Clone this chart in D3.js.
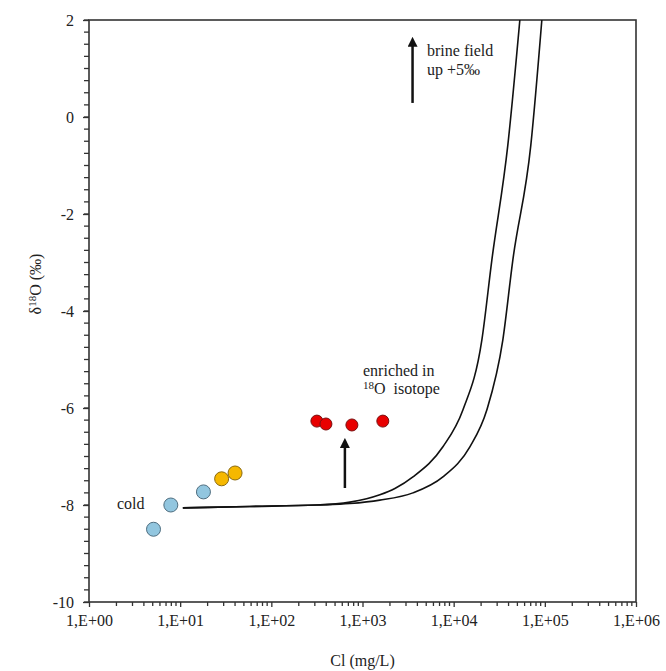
<!DOCTYPE html>
<html>
<head>
<meta charset="utf-8">
<script src="https://cdn.jsdelivr.net/npm/d3@7"></script>
<style>
  body { margin: 0; background: #fff; }
  text { font-family: "Liberation Serif", "Times New Roman", serif; fill: #222; }
</style>
</head>
<body>
<div id="chart"></div>
<script>
const margin = {top: 20, right: 30, bottom: 69, left: 89};
const WIDTH = 666, HEIGHT = 671;
const width = WIDTH - margin.left - margin.right;
const height = HEIGHT - margin.top - margin.bottom;

// samples, Cl (mg/L) vs d18O
const coldCl = [5.1, 7.9, 18];
const coldO = [-8.5, -8.0, -7.73];
const warmCl = [28.5, 40];
const warmO = [-7.46, -7.34];
const enrichedCl = [316, 397, 765, 1670];
const enrichedO = [-6.27, -6.33, -6.35, -6.27];

// mixing curves
const curveACl = [10.7, 58, 316, 728, 1550, 2266, 3575, 7620, 12620, 20370, 26230, 39270, 53200];
const curveAO = [-8.06, -8.03, -8.0, -7.94, -7.79, -7.66, -7.42, -6.8, -6.04, -4.6, -2.95, -0.58, 2];
const curveBCl = [10.7, 58, 316, 728, 1550, 3575, 7620, 15060, 23100, 34600, 44560, 70200, 92700];
const curveBO = [-8.06, -8.03, -8.0, -7.97, -7.9, -7.75, -7.42, -6.8, -6.04, -4.6, -2.95, -0.58, 2];

const xTicks = [1, 10, 100, 1000, 10000, 100000, 1000000];
const xTickLabels = ["1,E+00", "1,E+01", "1,E+02", "1,E+03", "1,E+04", "1,E+05", "1,E+06"];
const yTicks = [-10, -8, -6, -4, -2, 0, 2];

const svg = d3.select('#chart').append('svg')
    .attr('width', WIDTH)
    .attr('height', HEIGHT);
const g = svg.append('g')
    .attr('transform', `translate(${margin.left},${margin.top})`);

const x = d3.scaleLog().domain([1, 1e6]).range([0, width]);
const y = d3.scaleLinear().domain([-10, 2]).range([height, 0]);

// minor ticks
const xMinor = [];
xTicks.slice(0, -1).forEach(t => { for (let k = 2; k <= 9; k++) xMinor.push(t * k); });
const yMinor = d3.range(-10, 2.001, 0.25);

g.append('g').selectAll('line').data(xMinor).join('line')
    .attr('x1', d => x(d)).attr('x2', d => x(d))
    .attr('y1', height).attr('y2', height + 4)
    .attr('stroke', '#333').attr('stroke-width', 1.3);
g.append('g').selectAll('line').data(yMinor).join('line')
    .attr('x1', -5).attr('x2', 0)
    .attr('y1', d => y(d)).attr('y2', d => y(d))
    .attr('stroke', '#333').attr('stroke-width', 1.3);

const xAxis = d3.axisBottom(x).tickValues(xTicks).tickSize(5).tickPadding(8)
    .tickFormat((d, i) => xTickLabels[i]);
const yAxis = d3.axisLeft(y).tickValues(yTicks).tickSize(6).tickPadding(9)
    .tickFormat(d => d);

const gx = g.append('g').attr('transform', `translate(0,${height})`).call(xAxis);
const gy = g.append('g').call(yAxis);
[gx, gy].forEach(a => {
    a.attr('font-family', null);
    a.select('.domain').remove();
    a.selectAll('line').attr('stroke', '#333').attr('stroke-width', 1.3);
    a.selectAll('text').style('font-family', '"Liberation Serif", serif')
        .style('font-size', '16px').attr('fill', '#222');
});

// frame
g.append('rect')
    .attr('width', width).attr('height', height)
    .attr('fill', 'none').attr('stroke', '#333').attr('stroke-width', 1.6);

// curves
const line = d3.line().curve(d3.curveMonotoneX)
    .x(d => x(d[0])).y(d => y(d[1]));
g.append('clipPath').attr('id', 'clip')
    .append('rect').attr('width', width).attr('height', height);
[[curveACl, curveAO], [curveBCl, curveBO]].forEach(([cl, o]) => {
    g.append('path')
        .datum(cl.map((c, i) => [c, o[i]]))
        .attr('d', line)
        .attr('clip-path', 'url(#clip)')
        .attr('fill', 'none').attr('stroke', '#111').attr('stroke-width', 1.6);
});

// arrows
svg.append('defs').append('marker')
    .attr('id', 'head').attr('viewBox', '0 0 10 10')
    .attr('refX', 5).attr('refY', 5)
    .attr('markerWidth', 4).attr('markerHeight', 4)
    .attr('orient', 'auto')
    .append('path').attr('d', 'M0,0 L10,5 L0,10 Z').attr('fill', '#111');

const arrows = [[641, -7.65, -6.72], [3540, 0.29, 1.55]];
g.selectAll('.arrow').data(arrows).join('line')
    .attr('class', 'arrow')
    .attr('x1', d => x(d[0])).attr('x2', d => x(d[0]))
    .attr('y1', d => y(d[1])).attr('y2', d => y(d[2]))
    .attr('stroke', '#111').attr('stroke-width', 2.5)
    .attr('marker-end', 'url(#head)');

// points
const groups = [
    {cl: coldCl, o: coldO, fill: '#92c6df', stroke: '#4f6e80', r: 7},
    {cl: warmCl, o: warmO, fill: '#f6b800', stroke: '#8a6a10', r: 7},
    {cl: enrichedCl, o: enrichedO, fill: '#e80000', stroke: '#7a1010', r: 6}
];
groups.forEach(s => {
    g.append('g').selectAll('circle')
        .data(s.cl.map((c, i) => [c, s.o[i]]))
        .join('circle')
        .attr('cx', d => x(d[0])).attr('cy', d => y(d[1]))
        .attr('r', s.r)
        .attr('fill', s.fill).attr('stroke', s.stroke).attr('stroke-width', 1);
});

// annotations
const note = (tx, ty, str) => svg.append('text')
    .attr('x', tx).attr('y', ty).style('font-size', '16px').text(str);
note(117, 509, 'cold');
note(427, 56, 'brine field');
note(427, 75, 'up +5‰');
note(363, 376, 'enriched in');
const iso = svg.append('text').attr('x', 363).attr('y', 394).style('font-size', '16px');
iso.append('tspan').attr('dy', -5).style('font-size', '11px').text('18');
iso.append('tspan').attr('dy', 5).text('O\u00a0\u00a0isotope');

// axis titles
svg.append('text')
    .attr('x', margin.left + width / 2).attr('y', 666)
    .attr('text-anchor', 'middle').style('font-size', '16px')
    .text('Cl (mg/L)');

const yt = svg.append('text')
    .attr('transform', 'translate(41,284) rotate(-90)')
    .attr('text-anchor', 'middle').style('font-size', '16px');
yt.append('tspan').text('δ');
yt.append('tspan').attr('dy', -5).style('font-size', '11px').text('18');
yt.append('tspan').attr('dy', 5).text('O (‰)');
</script>
</body>
</html>
